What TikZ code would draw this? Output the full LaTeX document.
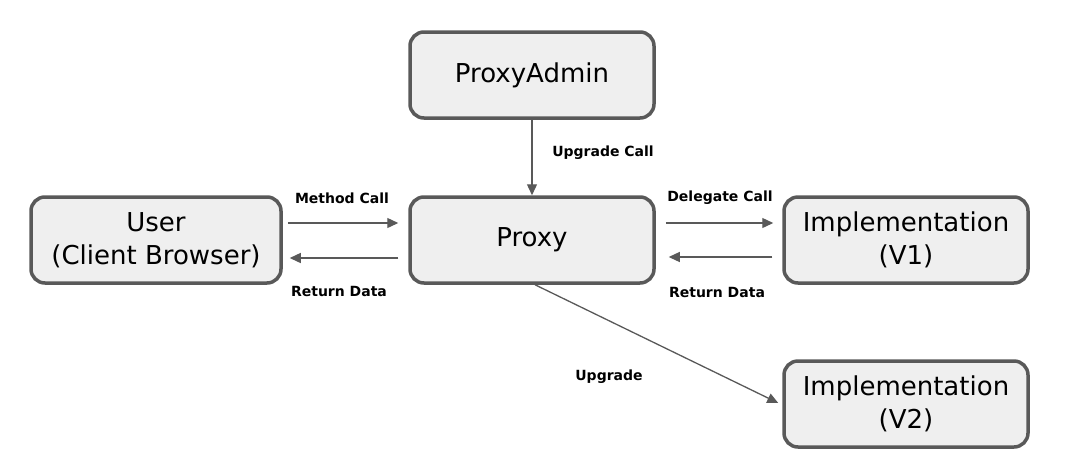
\documentclass[tikz,border=0pt]{standalone}
\usepackage{fontspec}
\setmainfont{DejaVu Sans}
\usetikzlibrary{arrows.meta,calc}
\definecolor{edge}{HTML}{595959}
\definecolor{boxfill}{HTML}{EFEFEF}
\tikzset{
  box/.style={draw=edge, line width=3.5pt, fill=boxfill, rounded corners=14pt,
    minimum width=244pt, minimum height=86pt, align=center, inner sep=0pt,
    font=\fontsize{26}{33}\selectfont},
  conn/.style={draw=edge, line width=1.3pt, -{Triangle[length=11pt,width=10pt]}},
  lab/.style={font=\bfseries\fontsize{14}{16}\selectfont, inner sep=0pt},
}
\begin{document}
\begin{tikzpicture}[x=1pt,y=-1pt]
\useasboundingbox (0,0) rectangle (1070,472);
\node[box] (admin) at (532,75) {ProxyAdmin};
\node[box] (proxy) at (532,240) {Proxy};
\node[box, minimum width=250pt] (user) at (156,240) {User\\(Client Browser)};
\node[box] (v1) at (906,240) {Implementation\\(V1)};
\node[box] (v2) at (906,404) {Implementation\\(V2)};
\draw[conn] (admin.south) -- (proxy.north);
\draw[conn] ([xshift=5pt,yshift=17pt]user.east) -- ([xshift=-10pt,yshift=17pt]proxy.west);
\draw[conn] ([xshift=-10pt,yshift=-18pt]proxy.west) -- ([xshift=7pt,yshift=-18pt]user.east);
\draw[conn] ([xshift=10pt,yshift=17pt]proxy.east) -- ([xshift=-9pt,yshift=17pt]v1.west);
\draw[conn] ([xshift=-10pt,yshift=-17pt]v1.west) -- ([xshift=13pt,yshift=-17pt]proxy.east);
\draw[conn] ([xshift=3pt]proxy.south) -- ([xshift=-4pt,yshift=1pt]v2.west);
\node[lab] (lupg) at (603,153) {Upgrade Call};
\node[lab] (lmeth) at (342,198) {Method Call};
\node[lab] (lret1) at (339,291) {Return Data};
\node[lab] (ldel) at (720,198) {Delegate Call};
\node[lab] (lret2) at (717,292) {Return Data};
\node[lab] (lup) at (609,377) {Upgrade};
\end{tikzpicture}
\end{document}
